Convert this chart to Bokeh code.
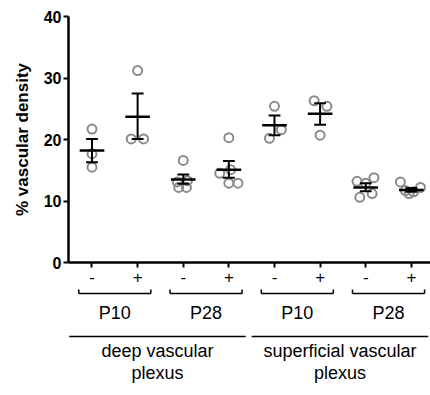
import numpy as np
from bokeh.plotting import figure
from bokeh.layouts import column
from bokeh.models import Range1d, FixedTicker
from bokeh.core.properties import value
from bokeh.embed import file_html
from bokeh.resources import INLINE

# ---------------- data ----------------
treatment = ["-", "+", "-", "+", "-", "+", "-", "+"]
ages = ["P10", "P28", "P10", "P28"]
plexus_line1 = ["deep vascular", "superficial vascular"]
plexus_line2 = ["plexus", "plexus"]
y_ticks = [0, 10, 20, 30, 40]
y_label = "% vascular density"

points = [
    [21.7, 17.7, 15.5],
    [31.2, 20.1, 20.1],
    [16.6, 13.3, 13.1, 12.2, 12.2],
    [20.3, 14.5, 15.1, 12.9, 12.9],
    [25.4, 21.6, 20.2],
    [26.3, 25.4, 20.7],
    [13.2, 12.9, 13.8, 10.6, 11.2],
    [13.1, 12.2, 11.2, 11.7, 11.5],
]
jitter = [
    [0, 0, 0],
    [0, -0.14, 0.13],
    [0, 0.09, -0.13, -0.1, 0.07],
    [0, -0.2, 0.04, 0, 0.2],
    [0, 0.15, -0.11],
    [-0.13, 0.15, 0],
    [-0.19, 0, 0.18, -0.13, 0.14],
    [-0.24, 0.2, -0.05, -0.13, 0.05],
]
means = [18.2, 23.7, 13.5, 15.1, 22.3, 24.2, 12.2, 11.8]
sem_lo = [16.3, 20.1, 12.8, 13.8, 20.7, 22.4, 11.6, 11.5]
sem_hi = [20.1, 27.5, 14.3, 16.5, 23.9, 25.9, 12.9, 12.1]

# ---------------- styling ----------------
FONT = "Liberation Sans"
MEAN_HALF = 0.27
CAP_HALF = 0.13
xpos = np.arange(1, len(treatment) + 1)

x_range = Range1d(0.485, 8.42)

p = figure(width=430, height=286, x_range=x_range, y_range=Range1d(0, 40),
           output_backend="svg", toolbar_location=None,
           min_border_left=68, min_border_right=0, min_border_top=16, min_border_bottom=24)
p.outline_line_color = None
p.grid.visible = False
p.background_fill_color = "white"
p.border_fill_color = "white"

# scatter points
px, py = [], []
for i, (vals, jit) in enumerate(zip(points, jitter)):
    for v, j in zip(vals, jit):
        px.append(xpos[i] + j)
        py.append(v)
p.scatter(px, py, size=9, marker="circle", fill_alpha=0, line_color="#8a8a8a", line_width=2)

# error bars
p.segment(xpos, sem_lo, xpos, sem_hi, line_color="black", line_width=2)
p.segment(xpos - CAP_HALF, sem_lo, xpos + CAP_HALF, sem_lo, line_color="black", line_width=2)
p.segment(xpos - CAP_HALF, sem_hi, xpos + CAP_HALF, sem_hi, line_color="black", line_width=2)
# means
p.segment(xpos - MEAN_HALF, means, xpos + MEAN_HALF, means, line_color="black", line_width=2.5)

# axes
p.xaxis.ticker = FixedTicker(ticks=list(xpos))
p.xaxis.major_label_overrides = {int(x): t for x, t in zip(xpos, treatment)}
p.xaxis.minor_tick_line_color = None
p.xaxis.major_tick_in = 0
p.xaxis.major_tick_out = 5
p.xaxis.major_tick_line_width = 2
p.xaxis.axis_line_width = 2.5
p.xaxis.major_label_text_font = FONT
p.xaxis.major_label_text_font_size = "17px"
p.xaxis.major_label_text_color = "black"
p.xaxis.major_label_standoff = 3

p.yaxis.ticker = FixedTicker(ticks=y_ticks)
p.yaxis.minor_tick_line_color = None
p.yaxis.major_tick_in = 0
p.yaxis.major_tick_out = 5
p.yaxis.major_tick_line_width = 2
p.yaxis.axis_line_width = 2.5
p.yaxis.major_label_text_font = FONT
p.yaxis.major_label_text_font_style = "bold"
p.yaxis.major_label_text_font_size = "16px"
p.yaxis.major_label_text_color = "black"
p.yaxis.major_label_standoff = 2
p.yaxis.axis_label = y_label
p.yaxis.axis_label_text_font = FONT
p.yaxis.axis_label_text_font_style = "bold"
p.yaxis.axis_label_text_font_size = "17px"
p.yaxis.axis_label_text_color = "black"
p.yaxis.axis_label_standoff = 9

# ---------------- lower annotation panel ----------------
q = figure(width=430, height=100, x_range=x_range, y_range=Range1d(100, 0),
           x_axis_type=None, y_axis_type=None,
           output_backend="svg", toolbar_location=None,
           min_border_left=68, min_border_right=0, min_border_top=0, min_border_bottom=0)
q.outline_line_color = None
q.background_fill_color = "white"
q.border_fill_color = "white"

BR_Y, BR_TOP = 7, 3
age_c = np.array([xpos[2 * k:2 * k + 2].mean() for k in range(len(ages))])
q.segment(age_c - 0.79, BR_Y, age_c + 0.79, BR_Y, line_color="black", line_width=1.5)
q.segment(age_c - 0.79, BR_Y, age_c - 0.79, BR_TOP, line_color="black", line_width=1.5)
q.segment(age_c + 0.79, BR_Y, age_c + 0.79, BR_TOP, line_color="black", line_width=1.5)
q.text(age_c, 26, text=ages, text_align="center", text_baseline="middle",
       text_font=value(FONT), text_font_size="18px", text_color="black")

blk_x0 = np.array([xpos[4 * k] - 0.5 for k in range(len(plexus_line1))])
blk_x1 = np.array([xpos[4 * k + 3] + 0.37 for k in range(len(plexus_line1))])
q.segment(blk_x0, 50, blk_x1, 50, line_color="black", line_width=1.5)
blk_c = (blk_x0 + blk_x1) / 2
q.text(blk_c, 64, text=plexus_line1, text_align="center", text_baseline="middle",
       text_font=value(FONT), text_font_size="18px", text_color="black")
q.text(blk_c, 86, text=plexus_line2, text_align="center", text_baseline="middle",
       text_font=value(FONT), text_font_size="18px", text_color="black")

layout = column(p, q, spacing=0)
open("out.html", "w").write(file_html(layout, INLINE))
